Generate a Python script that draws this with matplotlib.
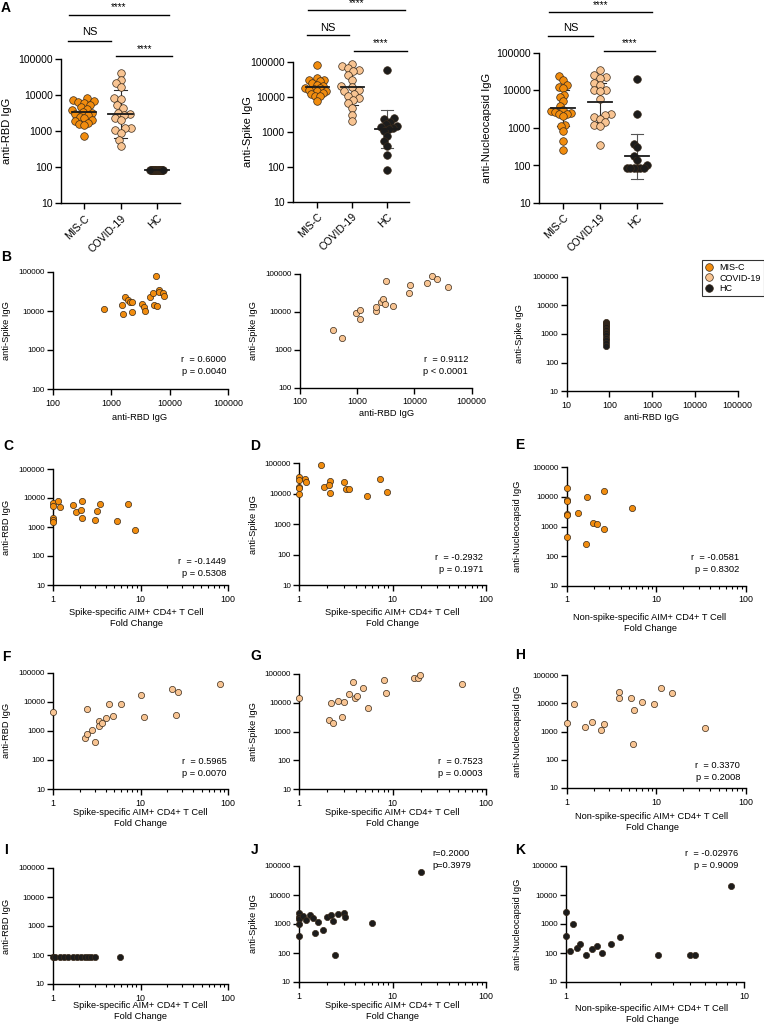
import numpy as np
import matplotlib
matplotlib.use('Agg')
import matplotlib.pyplot as plt
from matplotlib.ticker import FixedLocator, FuncFormatter, LogLocator, NullFormatter
from matplotlib.transforms import blended_transform_factory
from matplotlib.lines import Line2D

plt.rcParams['font.family'] = ['Liberation Sans', 'DejaVu Sans']

# ---------------- data ----------------
groups = ['MIS-C', 'COVID-19', 'HC']

# Panel A: anti-RBD IgG
a_rbd_misc = [8200, 7600, 7000, 6600, 6000, 5400, 4800, 4200, 3900, 3400, 3200, 3000,
              2800, 2500, 2300, 2100, 1900, 1700, 1600, 1500, 740]
a_rbd_covid = [40900, 26000, 21500, 16700, 8300, 7700, 5400, 4400, 3300, 3000, 2800,
               2300, 2000, 1200, 1200, 1100, 900, 580, 390]
a_rbd_hc = [85, 85, 85, 85, 85, 85, 85, 85, 85, 85, 85, 85, 85, 85, 85, 85, 85, 85]
a_rbd_summary = [(3500, 2000, 6000), (3000, 650, 13800), (85, 85, 85)]

# Panel A: anti-Spike IgG
a_spike_misc = [80000, 34000, 31500, 30000, 28000, 25000, 22500, 21000, 18000, 18000,
                17000, 16000, 14500, 14500, 12900, 12000, 10500, 10500, 7900]
a_spike_covid = [90000, 75000, 67000, 60000, 54000, 43000, 31500, 21000, 19300, 16300,
                 14500, 12500, 10500, 9400, 8300, 6700, 4900, 3150, 2000]
a_spike_hc = [60000, 2500, 2400, 1900, 1700, 1450, 1380, 1300, 1200, 1050, 750, 540,
              390, 225, 80]
a_spike_summary = [(19000, 11500, 30000), (19000, 6000, 60000), (1230, 350, 4350)]

# Panel A: anti-Nucleocapsid IgG
a_nuc_misc = [24000, 19500, 14000, 12400, 11700, 7700, 6900, 5100, 3900, 3050, 2800,
              2700, 2500, 2400, 2300, 2050, 1200, 1150, 810, 440, 260]
a_nuc_covid = [35800, 26000, 23000, 21600, 15800, 14200, 10500, 10000, 9500, 5900, 2400,
               2250, 1950, 1740, 1410, 1230, 1150, 355]
a_nuc_hc = [20400, 2350, 370, 320, 180, 140, 100, 85, 85, 85, 85, 85, 85]
a_nuc_summary = [(3400, 1100, 10500), (4800, 1450, 16000), (180, 45, 700)]

# Panel B
b1_rbd = [745, 1590, 1520, 1700, 1940, 2100, 2230, 2230, 3300, 3640, 3800, 4560, 5160,
          5330, 6100, 5900, 6600, 6600, 7700, 8000]
b1_spike = [11000, 8300, 14200, 23000, 19000, 16600, 17000, 9600, 15000, 12800, 10200,
            23300, 28400, 14000, 13400, 79000, 34500, 30000, 28400, 24500]
b2_rbd = [384, 550, 940, 1140, 1130, 2100, 2150, 2630, 2800, 3100, 3200, 4140, 7900,
          8300, 16800, 20500, 24400, 38700]
b2_spike = [3300, 2070, 9500, 11200, 6600, 10700, 13100, 18500, 21800, 16200, 65000,
            14000, 31500, 51000, 56700, 88500, 72000, 44500]
b3_rbd = [85, 85, 85, 85, 85, 85, 85, 85, 85, 85, 85, 85, 85, 85, 85]
b3_spike = [2700, 2500, 2300, 2100, 1900, 1700, 1500, 1350, 1200, 1050, 900, 750, 600,
            480, 380]

# Panels C, D (MIS-C, spike-specific fold change)
cd_fc = [1, 1, 1, 1, 1, 1.14, 1.19, 1.70, 1.82, 2.12, 2.08, 2.12, 3.0, 3.2, 3.43, 5.33,
         7.25, 8.65]
c_rbd = [6700, 5200, 2100, 1800, 1500, 7600, 4800, 5900, 3300, 7600, 3800, 2000, 1700,
         3700, 6300, 1580, 6400, 760]
d_spike = [34500, 28000, 17000, 15000, 10000, 30500, 25000, 88000, 16200, 27000, 19500,
           10800, 25000, 14000, 14000, 8400, 30500, 11400]

# Panel E (MIS-C, non-spike fold change)
e_fc = [1, 1, 1, 1, 1, 1, 1.35, 1.63, 1.70, 1.95, 2.2, 2.6, 2.6, 5.3]
e_nuc = [20400, 7700, 7000, 2600, 2500, 430, 2750, 265, 9600, 1300, 1170, 15800, 810,
         4250]

# Panels F, G, H (COVID-19)
f_fc = [1, 2.42, 3.37, 4.0, 4.8, 4.36, 5.9, 10.2, 10.8, 23, 26.8, 25.6, 81, 2.3, 2.4,
        2.8, 3.0, 3.3, 3.6]
f_rbd = [4400, 5500, 2200, 2700, 3200, 8700, 8300, 17500, 3000, 27000, 21700, 3500,
         40800, 560, 800, 1100, 400, 1500, 1800]
g_fc = [1, 2.17, 2.62, 3.0, 2.85, 3.44, 3.73, 3.95, 4.1, 4.85, 5.5, 8.15, 8.5, 17, 18.8,
        19.6, 55, 2.08, 2.3]
g_spike = [14200, 9500, 11200, 10800, 3250, 19600, 52500, 14200, 16700, 32700, 6700,
           60000, 22400, 74000, 71000, 92000, 45000, 2500, 2000]
h_fc = [1.21, 3.84, 3.84, 5.2, 5.7, 6.9, 9.5, 11.3, 14.9, 1.0, 1.6, 1.9, 2.4, 2.6, 5.5, 35]
h_nuc = [9500, 25800, 15000, 15000, 5800, 11000, 9500, 35000, 22400, 2000, 1500, 2200,
         1100, 1800, 370, 1300]

# Panels I, J, K (HC)
i_fc = [1, 1.05, 1.2, 1.35, 1.5, 1.7, 1.9, 2.1, 2.3, 2.5, 2.7, 3.0, 5.8]
i_rbd = [85, 85, 85, 85, 85, 85, 85, 85, 85, 85, 85, 85, 85]
j_fc = [1, 1, 1, 1, 1, 1.1, 1.2, 1.3, 1.4, 1.5, 1.6, 1.8, 2.0, 2.2, 2.3, 2.4, 2.6, 3.0,
        3.1, 6.0, 20]
j_spike = [2400, 1800, 1500, 1000, 400, 1900, 1400, 2000, 1600, 500, 1200, 600, 1800,
           2000, 1300, 85, 2200, 2400, 1800, 1100, 60000]
k_fc = [1, 1, 1.05, 1.1, 1.15, 1.2, 1.3, 1.4, 1.5, 1.6, 1.8, 2.0, 3.3, 5.0, 5.3, 8.5]
k_nuc = [2500, 400, 120, 1000, 150, 200, 85, 140, 180, 100, 200, 350, 85, 85, 85, 20000]

stats = {
    'B1': ('r  = 0.6000', 'p = 0.0040'),
    'B2': ('r  = 0.9112', 'p < 0.0001'),
    'C': ('r  = -0.1449', 'p = 0.5308'),
    'D': ('r  = -0.2932', 'p = 0.1971'),
    'E': ('r  = -0.0581', 'p = 0.8302'),
    'F': ('r  = 0.5965', 'p = 0.0070'),
    'G': ('r  = 0.7523', 'p = 0.0003'),
    'H': ('r  = 0.3370', 'p = 0.2008'),
    'J': ('r=0.2000', 'p=0.3979'),
    'K': ('r  = -0.02976', 'p = 0.9009'),
}

# ---------------- style ----------------
C_MISC = '#F18C0E'
C_COVID = '#F8C492'
C_HC = '#1C1C1C'
EDGE = '#3a2a1a'

W, H = 764, 1026
fig = plt.figure(figsize=(W / 100, H / 100), dpi=100)


def add_ax(x0, x1, y0, y1):
    return fig.add_axes([x0 / W, 1 - y1 / H, (x1 - x0) / W, (y1 - y0) / H])


def ptext(x, y, s, **kw):
    kw.setdefault('va', 'center')
    return fig.text(x / W, 1 - y / H, s, **kw)


int_fmt = FuncFormatter(lambda v, p: f'{int(round(v))}')


def style_axes(ax):
    for s in ('top', 'right'):
        ax.spines[s].set_visible(False)
    for s in ('left', 'bottom'):
        ax.spines[s].set_linewidth(1.0)
        ax.spines[s].set_color('black')


def swarm_offsets(ypx, d, maxhalf):
    ypx = np.asarray(ypx, float)
    order = np.argsort(ypx)
    placed = []
    xs = np.zeros(len(ypx))
    for i in order:
        y = ypx[i]
        cands = [0.0]
        for (px, py) in placed:
            dy = abs(y - py)
            if dy < d:
                dx = np.sqrt(d * d - dy * dy)
                cands += [px + dx, px - dx]
        cands = sorted(cands, key=lambda c: (round(abs(c), 6), c))
        for c in cands:
            if all((c - px) ** 2 + (y - py) ** 2 >= d * d - 1e-6 for px, py in placed):
                xs[i] = c
                break
        placed.append((xs[i], y))
    m = np.abs(xs).max()
    if m > maxhalf:
        xs *= maxhalf / m
    return xs


def dot_panel(box, xl, data, summ, ylabel, ylab_x, sig, halfw):
    x0, x1, y0, y1 = box
    ax = add_ax(x0, x1, y0, y1)
    style_axes(ax)
    ax.set_yscale('log')
    ax.set_ylim(10, 1e5)
    ax.set_xlim(*xl)
    hpx = y1 - y0
    px_per_cat = (x1 - x0) / (xl[1] - xl[0])
    cols = [C_MISC, C_COVID, C_HC]
    for k, vals in enumerate(data):
        ypx = (np.log10(vals) - 1) / 4 * hpx
        off = swarm_offsets(ypx, 6.3, halfw[k]) / px_per_cat
        ax.scatter(k + off, vals, s=30, c=cols[k], edgecolors=EDGE, linewidths=0.5,
                   zorder=3, clip_on=False)
        gm, lo, hi = summ[k]
        lc = '#2a2a2a' if k < 2 else '#555555'
        ax.plot([k - 0.33, k + 0.33], [gm, gm], color='#1a1a1a', lw=1.3, zorder=4)
        ax.plot([k, k], [lo, hi], color=lc, lw=0.8, zorder=2.5)
        for v in (lo, hi):
            ax.plot([k - 0.17, k + 0.17], [v, v], color=lc, lw=0.8, zorder=2.5)
    ax.yaxis.set_major_locator(FixedLocator([10, 100, 1000, 10000, 100000]))
    ax.yaxis.set_major_formatter(int_fmt)
    ax.yaxis.set_minor_locator(FixedLocator([]))
    ax.set_xticks([0, 1, 2])
    ax.set_xticklabels(groups, rotation=45, ha='right', rotation_mode='anchor',
                       fontsize=7.5)
    ax.tick_params(axis='both', which='major', length=4, width=1, pad=2, labelsize=7.5)
    ax.tick_params(axis='x', pad=3)
    ptext(ylab_x, (y0 + y1) / 2, ylabel, rotation=90, ha='center', fontsize=8)
    tr = blended_transform_factory(ax.transData, fig.transFigure)
    for (a, b, ly, ty, label) in sig:
        ax.plot([a, b], [1 - ly / H] * 2, color='black', lw=1.0, transform=tr,
                clip_on=False)
        ax.text((a + b) / 2, 1 - ty / H, label, transform=tr, ha='center', va='center',
                fontsize=8 if label == 'NS' else 7, fontweight='normal')
    return ax


def scatter_panel(box, x, y, color, xlim, ylim, xlabel, xlab_pos, ylabel, ylab_x,
                  rp=None, rp_pos=None, rp_ha='right', minor=True, size=20):
    x0, x1, y0, y1 = box
    ax = add_ax(x0, x1, y0, y1)
    style_axes(ax)
    ax.set_xscale('log')
    ax.set_yscale('log')
    ax.set_xlim(*xlim)
    ax.set_ylim(*ylim)
    ax.scatter(x, y, s=size, c=color, edgecolors=EDGE, linewidths=0.5, zorder=3,
               clip_on=False)
    yt = [v for v in [10, 100, 1000, 10000, 100000] if ylim[0] <= v <= ylim[1]]
    xt = [v for v in [1, 10, 100, 1000, 10000, 100000] if xlim[0] <= v <= xlim[1]]
    ax.yaxis.set_major_locator(FixedLocator(yt))
    ax.yaxis.set_major_formatter(int_fmt)
    ax.yaxis.set_minor_locator(FixedLocator([]))
    ax.xaxis.set_major_locator(FixedLocator(xt))
    ax.xaxis.set_major_formatter(int_fmt)
    if minor:
        ax.xaxis.set_minor_locator(LogLocator(base=10, subs=np.arange(2, 10)))
        ax.xaxis.set_minor_formatter(NullFormatter())
    else:
        ax.xaxis.set_minor_locator(FixedLocator([]))
    ax.tick_params(axis='both', which='major', length=4, width=1, pad=2)
    ax.tick_params(axis='x', which='minor', length=2.5, width=0.8)
    ax.tick_params(axis='y', labelsize=5.8)
    ax.tick_params(axis='x', labelsize=6.4, pad=3)
    ptext(xlab_pos[0], xlab_pos[1], xlabel, ha='center', fontsize=6.7, linespacing=1.35)
    ptext(ylab_x, (y0 + y1) / 2, ylabel, rotation=90, ha='center', fontsize=6.7)
    if rp is not None:
        ptext(rp_pos[0], rp_pos[1], rp[0], ha=rp_ha, fontsize=6.7)
        ptext(rp_pos[0], rp_pos[1] + 12, rp[1], ha=rp_ha, fontsize=6.7)
    return ax


# ---------------- Row A ----------------
dot_panel((61, 180, 59.3, 203.3), (-0.63, 2.63),
          [a_rbd_misc, a_rbd_covid, a_rbd_hc], a_rbd_summary, 'anti-RBD IgG', 7,
          [(-0.41, 2.33, 15, 7, '****'), (-0.44, 0.75, 41, 32, 'NS'),
           (0.89, 2.41, 56, 49, '****')], (12, 12, 7))
dot_panel((293, 409, 62, 202), (-0.69, 2.63),
          [a_spike_misc, a_spike_covid, a_spike_hc], a_spike_summary, 'anti-Spike IgG',
          248,
          [(-0.26, 2.51, 10, 3, '****'), (-0.29, 0.91, 35, 28, 'NS'),
           (1.06, 2.57, 51, 43, '****')], (12, 12, 10))
dot_panel((539, 662, 53, 203), (-0.65, 2.68),
          [a_nuc_misc, a_nuc_covid, a_nuc_hc], a_nuc_summary, 'anti-Nucleocapsid IgG',
          487,
          [(-0.38, 2.41, 12, 5, '****'), (-0.41, 0.81, 36, 28, 'NS'),
           (1.11, 2.49, 51, 43, '****')], (12, 12, 10))

# ---------------- Row B ----------------
scatter_panel((53, 228, 272, 389), b1_rbd, b1_spike, C_MISC, (100, 1e5), (100, 1e5),
              'anti-RBD IgG', (140, 418), 'anti-Spike IgG', 7, stats['B1'], (226, 359),
              minor=False)
scatter_panel((300, 471.7, 274, 387.7), b2_rbd, b2_spike, C_COVID, (100, 1e5),
              (100, 1e5), 'anti-RBD IgG', (387, 413), 'anti-Spike IgG', 254,
              stats['B2'], (468, 359), minor=False)
scatter_panel((566.7, 737.7, 276.7, 391.3), b3_rbd, b3_spike, C_HC, (10, 1e5),
              (10, 1e5), 'anti-RBD IgG', (652, 417), 'anti-Spike IgG', 520, None,
              minor=False)

handles = [Line2D([], [], ls='none', marker='o', ms=5.5, mfc=c, mec=EDGE, mew=0.5)
           for c in (C_MISC, C_COVID, C_HC)]
leg = fig.legend(handles, groups, loc='upper left',
                 bbox_to_anchor=(701.5 / W, 1 - 260 / H), frameon=True, fancybox=False,
                 edgecolor='black', fontsize=6.5, borderpad=0.35, handletextpad=0.6,
                 labelspacing=0.15, handlelength=1.0, borderaxespad=0)
leg.get_frame().set_linewidth(0.8)

SFC = 'Spike-specific AIM+ CD4+ T Cell\nFold Change'
NSFC = 'Non-spike-specific AIM+ CD4+ T Cell\nFold Change'

# ---------------- Row C/D/E ----------------
scatter_panel((53.3, 227.7, 469, 585), cd_fc, c_rbd, C_MISC, (1, 100), (10, 1e5),
              SFC, (136, 618), 'anti-RBD IgG', 7, stats['C'], (226, 562))
scatter_panel((299.3, 486, 463.3, 585), cd_fc, d_spike, C_MISC, (1, 100), (10, 1e5),
              SFC, (392, 618), 'anti-Spike IgG', 254, stats['D'], (483, 558))
scatter_panel((566.7, 745.7, 467.3, 585.7), e_fc, e_nuc, C_MISC, (1, 100), (10, 1e5),
              NSFC, (650, 623), 'anti-Nucleocapsid IgG', 517, stats['E'], (739, 558))

# ---------------- Row F/G/H ----------------
scatter_panel((53.3, 228, 672.7, 789), f_fc, f_rbd, C_COVID, (1, 100), (10, 1e5),
              SFC, (140, 818), 'anti-RBD IgG', 7, stats['F'], (227, 762))
scatter_panel((299.3, 486, 674, 789), g_fc, g_spike, C_COVID, (1, 100), (10, 1e5),
              SFC, (392, 818), 'anti-Spike IgG', 254, stats['G'], (483, 762))
scatter_panel((566.7, 745.7, 675, 788), h_fc, h_nuc, C_COVID, (1, 100), (10, 1e5),
              NSFC, (652, 822), 'anti-Nucleocapsid IgG', 517, stats['H'], (740, 766))

# ---------------- Row I/J/K ----------------
scatter_panel((53, 228, 868, 984), i_fc, i_rbd, C_HC, (1, 100), (10, 1e5),
              SFC, (140, 1011), 'anti-RBD IgG', 7, None)
scatter_panel((299, 486, 866, 982), j_fc, j_spike, C_HC, (1, 100), (10, 1e5),
              SFC, (392, 1011), 'anti-Spike IgG', 254, stats['J'], (432, 853),
              rp_ha='left')
scatter_panel((566, 744, 866, 982), k_fc, k_nuc, C_HC, (1, 10), (10, 1e5),
              NSFC, (652, 1014), 'anti-Nucleocapsid IgG', 517, stats['K'], (738, 853))

# ---------------- panel letters ----------------
for lab, x, y in [('A', 6, 8), ('B', 6, 257), ('C', 8, 446), ('D', 255, 446),
                  ('E', 520, 445), ('F', 6, 657), ('G', 256, 656), ('H', 520, 655),
                  ('I', 6, 850), ('J', 255, 850), ('K', 520, 850)]:
    ptext(x, y, lab, ha='center', fontsize=10, fontweight='bold')

fig.savefig('out.png', dpi=100)
